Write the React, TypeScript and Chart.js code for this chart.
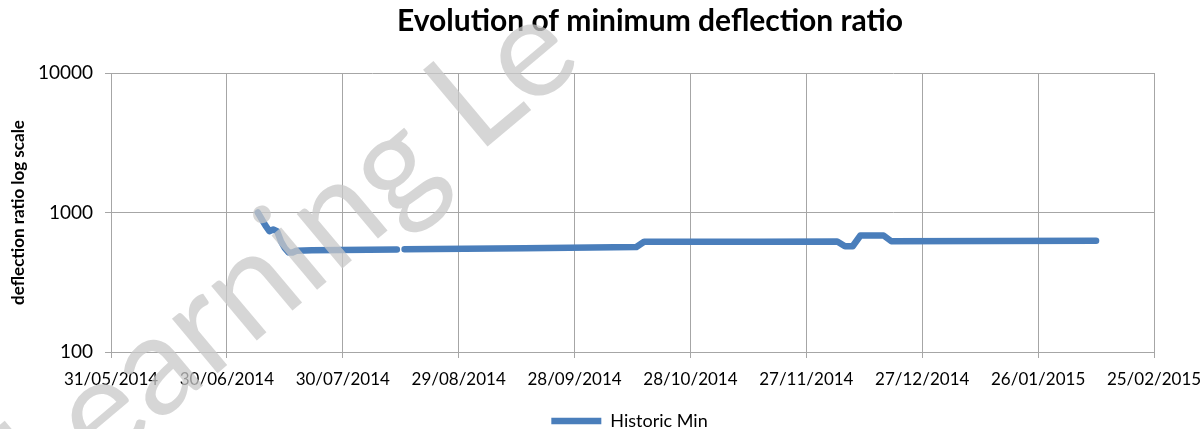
import React, { useEffect, useRef } from 'react';
import { Chart, registerables } from 'chart.js';

Chart.register(...registerables);

const chartTitle = 'Evolution of minimum deflection ratio';
const yAxisTitle = 'deflection ratio log scale';
const seriesName = 'Historic Min';
const watermarkText = 'Learning Le';
const axisStart = '2014-05-31';
const axisEnd = '2015-02-25';
const tickStepDays = 30;
const yTickValues = [100, 1000, 10000];

const dates = [
  '2014-07-08', '2014-07-10', '2014-07-11', '2014-07-12', '2014-07-13', '2014-07-14',
  '2014-07-15', '2014-07-16', '2014-07-17', '2014-07-18', '2014-07-22', '2014-08-13',
  '2014-08-14', '2014-08-15', '2014-09-15', '2014-10-14', '2014-10-16', '2014-11-15',
  '2014-12-05', '2014-12-07', '2014-12-09', '2014-12-11', '2014-12-17', '2014-12-19',
  '2015-01-15', '2015-02-10',
];
const historicMin = [
  1000, 805, 735, 755, 735, 620,
  555, 517, 517, 532, 537, 543,
  null, 546, 555, 566, 617, 618,
  620, 573, 573, 684, 684, 622,
  624, 627,
];

const DAY = 86400000;
const baseMs = Date.parse(axisStart + 'T00:00:00Z');
const toDay = (s: string) => (Date.parse(s + 'T00:00:00Z') - baseMs) / DAY;
const fmtDay = (d: number) => {
  const t = new Date(baseMs + Math.round(d) * DAY);
  const dd = String(t.getUTCDate()).padStart(2, '0');
  const mm = String(t.getUTCMonth() + 1).padStart(2, '0');
  return `${dd}/${mm}/${t.getUTCFullYear()}`;
};

const FONT = 'Lato, "Open Sans", sans-serif';
const GRID = '#a6a6a6';
const BLUE = '#4a7ebb';
const TITLE_CENTER_X = 650;
const LEGEND_CENTER_X = 629.5;

export default function App() {
  const ref = useRef<HTMLCanvasElement | null>(null);
  useEffect(() => {
    document.body.style.margin = '0';
    const canvas = ref.current!;
    const watermark = {
      id: 'watermark',
      afterDraw(chart: any) {
        const ctx = chart.ctx;
        ctx.save();
        ctx.translate(20, 480);
        ctx.rotate(-40 * Math.PI / 180);
        ctx.font = `140px ${FONT}`;
        ctx.fillStyle = 'rgba(200,200,200,0.75)';
        ctx.fillText(watermarkText, 0, 0);
        ctx.restore();
      },
    };
    const shiftBoxes = {
      id: 'shiftBoxes',
      afterLayout(chart: any) {
        const lg = chart.legend;
        if (lg) {
          const d = LEGEND_CENTER_X - (lg.left + lg.right) / 2;
          lg.left += d;
          lg.right += d;
        }
        const tt = chart.titleBlock;
        if (tt) {
          const d = TITLE_CENTER_X - (tt.left + tt.right) / 2;
          tt.left += d;
          tt.right += d;
        }
      },
    };
    const chart = new Chart(canvas, {
      type: 'line',
      data: {
        datasets: [
          {
            label: seriesName,
            data: dates.map((d, i) => ({ x: toDay(d), y: historicMin[i] as any })),
            borderColor: BLUE,
            backgroundColor: BLUE,
            borderWidth: 6.5,
            borderCapStyle: 'round',
            borderJoinStyle: 'round',
            pointRadius: 0,
            pointStyle: 'line',
            tension: 0,
            spanGaps: false,
          },
        ],
      },
      options: {
        animation: false,
        responsive: false,
        layout: { padding: { left: 0, right: 48, top: 0, bottom: -11 } },
        plugins: {
          title: {
            display: true,
            text: chartTitle,
            color: '#000',
            font: { family: FONT, size: 30, weight: 'bold', lineHeight: 1.2 },
            padding: { top: 3, bottom: 34 },
          },
          legend: {
            position: 'bottom',
            labels: {
              usePointStyle: true,
              pointStyleWidth: 50,
              padding: 6,
              color: '#000',
              font: { family: FONT, size: 18 },
            },
          },
          tooltip: { enabled: false },
        },
        scales: {
          x: {
            type: 'linear',
            min: 0,
            max: toDay(axisEnd),
            afterFit(scale: any) {
              scale.height = 54;
              scale.paddingLeft = 0;
              scale.paddingRight = 0;
            },
            ticks: {
              stepSize: tickStepDays,
              autoSkip: false,
              maxRotation: 0,
              padding: 11,
              color: '#000',
              font: { family: FONT, size: 17 },
              callback: (v: any) => fmtDay(Number(v)),
            },
            grid: { color: GRID, tickLength: 6, lineWidth: 1 },
            border: { color: GRID },
          },
          y: {
            type: 'logarithmic',
            min: 100,
            max: 10000,
            afterFit(scale: any) { scale.width = 111; },
            afterBuildTicks(scale: any) {
              scale.ticks = yTickValues.map((v) => ({ value: v, major: true }));
            },
            ticks: {
              padding: 12,
              color: '#000',
              font: { family: FONT, size: 19 },
              callback: (v: any) => String(v),
            },
            grid: { color: GRID, tickLength: 6, lineWidth: 1 },
            border: { color: GRID },
            title: {
              display: true,
              text: yAxisTitle,
              color: '#000',
              font: { family: FONT, size: 17, weight: 'bold' },
              padding: { top: 8, bottom: 0 },
            },
          },
        },
      } as any,
      plugins: [watermark, shiftBoxes],
    });
    return () => chart.destroy();
  }, []);
  return <canvas ref={ref} width={1202} height={429} style={{ display: 'block' }} />;
}
